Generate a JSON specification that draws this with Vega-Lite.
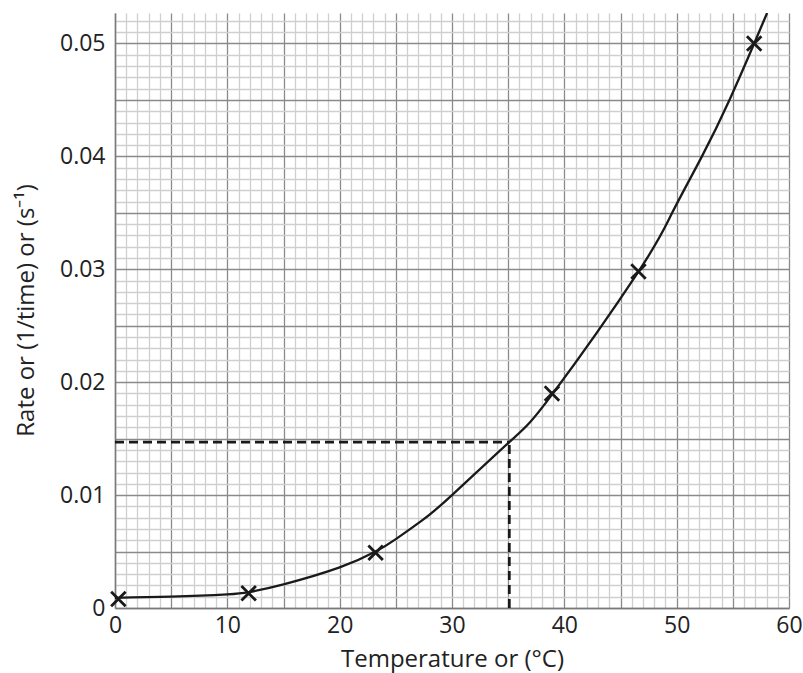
{
  "$schema": "https://vega.github.io/schema/vega-lite/v6.json",
  "autosize": {"type": "none"},
  "padding": {"left": 115, "top": 13, "right": 14, "bottom": 65},
  "width": 674,
  "height": 595,
  "background": "white",
  "config": {
    "view": {"stroke": null},
    "font": "Open Sans",
    "axis": {
      "labelFont": "Open Sans",
      "titleFont": "Open Sans",
      "labelFontSize": 23,
      "titleFontSize": 24,
      "labelColor": "#222222",
      "titleColor": "#222222",
      "titleFontWeight": "normal",
      "ticks": false,
      "tickCount": 200,
      "domainColor": "#7a7a7a",
      "domainWidth": 1.5,
      "labelOverlap": false,
      "labelBound": false,
      "labelFlush": false,
      "gridWidth": 1.3,
      "gridOpacity": 1
    }
  },
  "datasets": {
    "curve": [
      {"t": 0, "rate": 0.0009},
      {"t": 5, "rate": 0.001},
      {"t": 10, "rate": 0.0012},
      {"t": 11.9, "rate": 0.0014},
      {"t": 15, "rate": 0.0021},
      {"t": 20, "rate": 0.0036},
      {"t": 23.2, "rate": 0.005},
      {"t": 25, "rate": 0.0061},
      {"t": 27.4, "rate": 0.0078},
      {"t": 30, "rate": 0.01},
      {"t": 35.1, "rate": 0.0147},
      {"t": 38.9, "rate": 0.0189},
      {"t": 46.6, "rate": 0.0298},
      {"t": 49.6, "rate": 0.035},
      {"t": 52.25, "rate": 0.04},
      {"t": 54.7, "rate": 0.045},
      {"t": 56.9, "rate": 0.05},
      {"t": 58.05, "rate": 0.0527}
    ],
    "points": [
      {"t": 0.3, "rate": 0.0008},
      {"t": 11.9, "rate": 0.0013},
      {"t": 23.2, "rate": 0.0049},
      {"t": 38.9, "rate": 0.019},
      {"t": 46.6, "rate": 0.0298},
      {"t": 56.9, "rate": 0.05}
    ],
    "guides": [
      {"t": 0, "t2": 35.1, "rate": 0.0147, "rate2": 0.0147},
      {"t": 35.1, "t2": 35.1, "rate": 0, "rate2": 0.0147}
    ]
  },
  "layer": [
    {
      "data": {"name": "curve"},
      "mark": {"type": "line", "interpolate": "natural", "color": "#1a1a1a", "strokeWidth": 2.3, "clip": true},
      "encoding": {
        "x": {
          "field": "t", "type": "quantitative",
          "scale": {"domain": [0, 60], "nice": false, "zero": false},
          "axis": {
            "title": "Temperature or (°C)",
            "tickCount": 200,
            "values": [0,1,2,3,4,5,6,7,8,9,10,11,12,13,14,15,16,17,18,19,20,21,22,23,24,25,26,27,28,29,30,31,32,33,34,35,36,37,38,39,40,41,42,43,44,45,46,47,48,49,50,51,52,53,54,55,56,57,58,59,60],
            "labelExpr": "datum.value % 10 === 0 ? format(datum.value, 'd') : ''",
            "labelPadding": 6,
            "titlePadding": 10,
            "gridColor": {"condition": {"test": "datum.value % 5 === 0", "value": "#8a8a8a"}, "value": "#cfcfcf"}
          }
        },
        "y": {
          "field": "rate", "type": "quantitative",
          "scale": {"domain": [0, 0.0527], "nice": false, "zero": false},
          "axis": {
            "title": "Rate or (1/time) or (s⁻¹)",
            "tickCount": 200,
            "values": [0,0.001,0.002,0.003,0.004,0.005,0.006,0.007,0.008,0.009,0.01,0.011,0.012,0.013,0.014,0.015,0.016,0.017,0.018,0.019,0.02,0.021,0.022,0.023,0.024,0.025,0.026,0.027,0.028,0.029,0.03,0.031,0.032,0.033,0.034,0.035,0.036,0.037,0.038,0.039,0.04,0.041,0.042,0.043,0.044,0.045,0.046,0.047,0.048,0.049,0.05,0.051,0.052],
            "labelExpr": "round(datum.value*1000) % 10 === 0 ? (datum.value === 0 ? '0' : format(datum.value, '.2f')) : ''",
            "labelPadding": 10,
            "titleX": -77,
            "titleY": 297,
            "gridColor": {"condition": {"test": "round(datum.value*1000) % 5 === 0", "value": "#8a8a8a"}, "value": "#cfcfcf"}
          }
        }
      }
    },
    {
      "data": {"name": "guides"},
      "mark": {"type": "rule", "color": "#1a1a1a", "strokeWidth": 2.8, "strokeDash": [9, 5]},
      "encoding": {
        "x": {"field": "t", "type": "quantitative"},
        "x2": {"field": "t2"},
        "y": {"field": "rate", "type": "quantitative"},
        "y2": {"field": "rate2"}
      }
    },
    {
      "data": {"name": "points"},
      "mark": {"type": "point", "shape": "M-1,-1L1,1M-1,1L1,-1", "size": 210, "filled": false, "stroke": "#1a1a1a", "strokeWidth": 2.8, "opacity": 1},
      "encoding": {
        "x": {"field": "t", "type": "quantitative"},
        "y": {"field": "rate", "type": "quantitative"}
      }
    }
  ]
}
